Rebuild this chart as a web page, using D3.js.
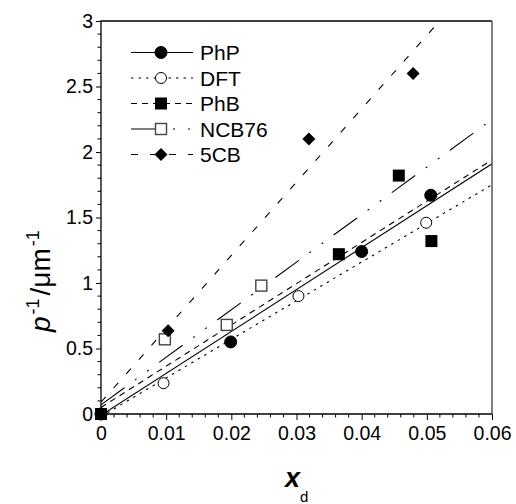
<!DOCTYPE html>
<html><head><meta charset="utf-8">
<script src="https://cdn.jsdelivr.net/npm/d3@7"></script>
<style>body{margin:0;background:#fff}svg{display:block;font-family:"Liberation Sans",Arial,sans-serif}</style>
</head><body><svg id="c" width="516" height="504"></svg>
<script>
// ---- data ----
const seriesNames = ["PhP", "DFT", "PhB", "NCB76", "5CB"];
const phpX = [0, 0.0199, 0.0400, 0.0506];
const phpY = [0, 0.55, 1.24, 1.67];
const dftX = [0, 0.0096, 0.0303, 0.0499];
const dftY = [0, 0.235, 0.90, 1.46];
const phbX = [0, 0.0365, 0.0457, 0.0507];
const phbY = [0, 1.22, 1.82, 1.32];
const ncbX = [0.0098, 0.0193, 0.0246];
const ncbY = [0.57, 0.68, 0.98];
const cbX = [0.0103, 0.0319, 0.0479];
const cbY = [0.635, 2.10, 2.60];
// linear fits p^-1 = a + b*x
const fitIntercept = [-0.01, -0.02, 0.05, 0.07, 0.09];
const fitSlope = [32.0, 29.5, 31.5, 36.3, 56.0];
const xTicks = [0, 0.01, 0.02, 0.03, 0.04, 0.05, 0.06];
const xTickLabels = ["0", "0.01", "0.02", "0.03", "0.04", "0.05", "0.06"];
const yTicks = [0, 0.5, 1, 1.5, 2, 2.5, 3];
const yTickLabels = ["0", "0.5", "1", "1.5", "2", "2.5", "3"];

const xs = [phpX, dftX, phbX, ncbX, cbX];
const ys = [phpY, dftY, phbY, ncbY, cbY];
const styles = [
  {dash: null, marker: "circle", fill: "#000"},
  {dash: "2.5,5", marker: "circle", fill: "#fff"},
  {dash: "6,5", marker: "square", fill: "#000"},
  {dash: "29,13,2,13,2,13", marker: "square", fill: "#fff"},
  {dash: "7,12", marker: "diamond", fill: "#000"}
];

const svg = d3.select("#c");
const L = 101, R = 492, T = 21, B = 414;
const x = d3.scaleLinear().domain([0, 0.06]).range([L, R]);
const y = d3.scaleLinear().domain([0, 3]).range([B, T]);

svg.append("defs").append("clipPath").attr("id", "clip")
  .append("rect").attr("x", L).attr("y", T).attr("width", R - L).attr("height", B - T);

// fit lines
const line = d3.line().x(d => x(d[0])).y(d => y(d[1]));
const plot = svg.append("g").attr("clip-path", "url(#clip)");
seriesNames.forEach((n, i) => {
  const pts = [[0, fitIntercept[i]], [0.06, fitIntercept[i] + fitSlope[i] * 0.06]];
  plot.append("path").attr("d", line(pts)).attr("fill", "none")
    .attr("stroke", "#000").attr("stroke-width", 1.1)
    .attr("stroke-dasharray", styles[i].dash);
});

function marker(g, type, cx, cy, fill) {
  if (type === "circle") {
    g.append("circle").attr("cx", cx).attr("cy", cy).attr("r", fill === "#000" ? 6 : 5.5)
      .attr("fill", fill).attr("stroke", "#000").attr("stroke-width", 1);
  } else if (type === "square") {
    const s = fill === "#000" ? 12 : 11;
    g.append("rect").attr("x", cx - s / 2).attr("y", cy - s / 2).attr("width", s).attr("height", s)
      .attr("fill", fill).attr("stroke", fill === "#000" ? "#000" : "#444").attr("stroke-width", fill === "#000" ? 0 : 1.4);
  } else {
    const h = 6.5;
    g.append("path").attr("d", `M${cx},${cy - h}L${cx + h},${cy}L${cx},${cy + h}L${cx - h},${cy}Z`).attr("fill", fill);
  }
}

// markers draw order
const order = [3, 4, 1, 0, 2];
const mg = svg.append("g");
order.forEach(i => {
  xs[i].forEach((xv, j) => marker(mg, styles[i].marker, x(xv), y(ys[i][j]), styles[i].fill));
});

// axes
const fs = 19.5;
const xAxis = d3.axisBottom(x).tickValues(xTicks).tickFormat((d, i) => xTickLabels[i]).tickSize(6).tickPadding(6);
const gx = svg.append("g").attr("transform", `translate(0,${B})`).call(xAxis);
gx.selectAll("text").attr("font-size", fs).attr("font-family", "Liberation Sans, Arial").attr("fill", "#000");
gx.select(".domain").remove();
const xMinor = d3.range(0, 0.0601, 0.002).filter(v => Math.abs(v / 0.01 - Math.round(v / 0.01)) > 1e-6);
svg.append("g").selectAll("line").data(xMinor).join("line")
  .attr("x1", d => x(d)).attr("x2", d => x(d)).attr("y1", B).attr("y2", B + 3.5).attr("stroke", "#000");

const yAxis = d3.axisLeft(y).tickValues(yTicks).tickFormat((d, i) => yTickLabels[i]).tickSize(5).tickPadding(3);
const gy = svg.append("g").attr("transform", `translate(${L},0)`).call(yAxis);
gy.selectAll("text").attr("font-size", fs).attr("font-family", "Liberation Sans, Arial").attr("fill", "#000");
gy.select(".domain").remove();
const yMinor = d3.range(0, 3.001, 0.1).filter(v => Math.abs(v / 0.5 - Math.round(v / 0.5)) > 1e-6);
svg.append("g").selectAll("line").data(yMinor).join("line")
  .attr("x1", L - 3.5).attr("x2", L).attr("y1", d => y(d)).attr("y2", d => y(d)).attr("stroke", "#000");

// frame
svg.append("path").attr("d", `M${L},${B}V${T}H${R}`).attr("fill", "none").attr("stroke", "#000").attr("stroke-width", 1.3);
svg.append("line").attr("x1", L).attr("x2", R).attr("y1", B).attr("y2", B).attr("stroke", "#000").attr("stroke-width", 1.3);
svg.append("line").attr("x1", R).attr("x2", R).attr("y1", T).attr("y2", B).attr("stroke", "#555").attr("stroke-width", 1.5);

// legend
const rows = [52.5, 78, 103.5, 129, 154.5];
const lg = svg.append("g");
seriesNames.forEach((n, i) => {
  lg.append("line").attr("x1", 131).attr("x2", 193).attr("y1", rows[i]).attr("y2", rows[i])
    .attr("stroke", "#000").attr("stroke-width", 1.1).attr("stroke-dasharray", styles[i].dash);
  marker(lg, styles[i].marker, 161, rows[i], styles[i].fill);
  lg.append("text").attr("x", 200).attr("y", rows[i] + 7.5).attr("font-size", 21).text(n);
});

// axis titles
const xt = svg.append("text").attr("x", 285).attr("y", 487);
xt.append("tspan").attr("font-size", 27).attr("font-style", "italic").attr("font-weight", "bold").text("x");
xt.append("tspan").attr("font-size", 15).attr("dy", 15).text("d");

const yt = svg.append("text").attr("transform", "translate(50,332) rotate(-90)").attr("text-anchor", "start").attr("font-size", 28);
yt.append("tspan").attr("font-style", "italic").text("p");
yt.append("tspan").attr("font-size", 18).attr("dy", -11).attr("dx", 2).text("-1");
yt.append("tspan").attr("dy", 11).attr("dx", 3).text("/μm");
yt.append("tspan").attr("font-size", 18).attr("dy", -11).attr("dx", 2).text("-1");
</script></body></html>
